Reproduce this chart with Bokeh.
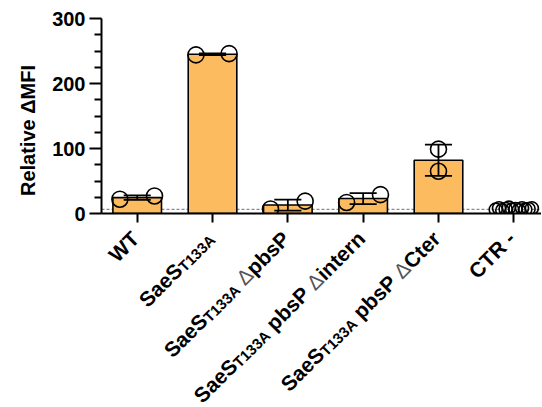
import numpy as np
from math import pi, sqrt
from bokeh.plotting import figure
from bokeh.layouts import row, column
from bokeh.models import Range1d, FixedTicker, Span
from bokeh.core.properties import value
from bokeh.embed import file_html
from bokeh.resources import INLINE

# ---------------- data ----------------
categories = ["WT", "SaeS T133A", "SaeS T133A ΔpbsP",
              "SaeS T133A pbsP Δintern", "SaeS T133A pbsP ΔCter", "CTR -"]
wt_vals = [22, 27]
saes_vals = [244, 246]
dpbsp_vals = [7, 19]
dintern_vals = [17, 29]
dcter_vals = [99, 65]
ctr_vals = [6, 8, 5, 7, 9, 6, 7, 5, 8, 6, 7, 8]
threshold = 6.5
y_ticks = [0, 100, 200, 300]
y_minor = [25, 50, 75, 125, 150, 175, 225, 250, 275]
y_title = "Relative ΔMFI"

# tick label pieces: m = main bold, s = subscript, d = delta, g = gap
label_parts = [
    [("WT", "m")],
    [("SaeS", "m"), ("T133A", "s")],
    [("SaeS", "m"), ("T133A", "s"), (" ", "g"), ("Δ", "d"), ("pbsP", "m")],
    [("SaeS", "m"), ("T133A", "s"), (" ", "g"), ("pbsP", "m"), (" ", "g"), ("Δ", "d"), ("intern", "m")],
    [("SaeS", "m"), ("T133A", "s"), (" ", "g"), ("pbsP", "m"), (" ", "g"), ("Δ", "d"), ("Cter", "m")],
    [("CTR", "m"), (" ", "g"), ("-", "m")],
]

groups = [wt_vals, saes_vals, dpbsp_vals, dintern_vals, dcter_vals, ctr_vals]
bar_groups = 5  # CTR - has no visible bar

# ---------------- layout ----------------
TOTAL_W, TOTAL_H = 541, 406
LEFT_W = 45
MAIN_W = TOTAL_W - LEFT_W
m_left, m_top, m_bottom = 56, 18, 10
frame_h = 195
MAIN_H = m_top + frame_h + m_bottom
BOT_H = TOTAL_H - MAIN_H
frame_w = MAIN_W - m_left
x0 = -0.474
PX_X = 75.32
x1 = x0 + frame_w / PX_X

FONT = "Liberation Sans"
BAR_COLOR = "#FDBB5F"

p = figure(width=MAIN_W, height=MAIN_H, output_backend="svg", toolbar_location=None,
           x_range=Range1d(x0, x1), y_range=Range1d(0, 300),
           min_border_left=m_left, min_border_right=0,
           min_border_top=m_top, min_border_bottom=m_bottom)
p.outline_line_color = None
p.xgrid.visible = False
p.ygrid.visible = False

# threshold dashed line (behind bars)
p.add_layout(Span(location=threshold, dimension="width", line_color="#8a8a8a",
                  line_width=1.2, line_dash="3 2", level="underlay"))

# bars
means = [float(np.mean(g)) for g in groups]
sds = [float(np.std(g, ddof=1)) for g in groups]
bx = list(range(bar_groups))
p.vbar(x=bx, top=means[:bar_groups], width=0.645, bottom=0,
       fill_color=BAR_COLOR, line_color="black", line_width=1.6)

# points
pair_offsets = [[-0.23, 0.23], [-0.22, 0.22], [-0.23, 0.23], [-0.22, 0.23], [0.0, 0.0]]
px, py = [], []
for i in range(bar_groups):
    for off, v in zip(pair_offsets[i], groups[i]):
        px.append(i + off)
        py.append(v)
p.scatter(px, py, size=16, marker="circle", fill_alpha=0, line_color="black", line_width=1.6)
ctr_off = np.linspace(-0.24, 0.24, len(ctr_vals))
p.scatter(5 + ctr_off, ctr_vals, size=13, marker="circle", fill_alpha=0,
          line_color="black", line_width=1.6)

# error bars (mean ± SD)
lo = [m - s for m, s in zip(means[:bar_groups], sds[:bar_groups])]
hi = [m + s for m, s in zip(means[:bar_groups], sds[:bar_groups])]
cap = 0.18
p.segment(x0=bx, y0=lo, x1=bx, y1=hi, line_color="black", line_width=1.8)
p.segment(x0=[x - cap for x in bx], y0=hi, x1=[x + cap for x in bx], y1=hi,
          line_color="black", line_width=1.8)
p.segment(x0=[x - cap for x in bx], y0=lo, x1=[x + cap for x in bx], y1=lo,
          line_color="black", line_width=1.8)

# axes
p.yaxis.ticker = FixedTicker(ticks=y_ticks, minor_ticks=y_minor)
p.yaxis.axis_line_width = 2
p.yaxis.major_tick_line_width = 2
p.yaxis.minor_tick_line_width = 2
p.yaxis.major_tick_out = 12
p.yaxis.major_tick_in = 0
p.yaxis.minor_tick_out = 7
p.yaxis.minor_tick_in = 0
p.yaxis.major_label_standoff = 4
p.yaxis.major_label_text_font = FONT
p.yaxis.major_label_text_font_style = "bold"
p.yaxis.major_label_text_font_size = "20px"
p.yaxis.major_label_text_color = "black"

p.xaxis.ticker = FixedTicker(ticks=list(range(len(categories))), minor_ticks=[])
p.xaxis.major_label_overrides = {i: "" for i in range(len(categories))}
p.xaxis.major_label_text_font_size = "1px"
p.xaxis.major_label_standoff = 0
p.xaxis.axis_line_width = 2
p.xaxis.major_tick_line_width = 2
p.xaxis.major_tick_out = 9
p.xaxis.major_tick_in = 0
p.xaxis.minor_tick_line_color = None

# ---------------- left strip: y title ----------------
pl = figure(width=LEFT_W, height=TOTAL_H, output_backend="svg", toolbar_location=None,
            x_range=Range1d(0, LEFT_W), y_range=Range1d(0, TOTAL_H),
            x_axis_type=None, y_axis_type=None,
            min_border_left=0, min_border_right=0, min_border_top=0, min_border_bottom=0)
pl.outline_line_color = None
pl.xgrid.visible = False
pl.ygrid.visible = False
pl.text(x=[27], y=[TOTAL_H - 130], text=[y_title], angle=pi / 2,
        text_align="center", text_baseline="alphabetic",
        text_font=value(FONT), text_font_style="bold", text_font_size="20px",
        text_color="black")

# ---------------- bottom strip: rotated category labels ----------------
pb = figure(width=MAIN_W, height=BOT_H, output_backend="svg", toolbar_location=None,
            x_range=p.x_range, y_range=Range1d(-BOT_H, 0),
            x_axis_type=None, y_axis_type=None,
            min_border_left=m_left, min_border_right=0, min_border_top=0, min_border_bottom=0)
pb.outline_line_color = None
pb.xgrid.visible = False
pb.ygrid.visible = False

MAIN_SZ, SUB_SZ = 21, 15
widths = {'S': .667, 'a': .556, 'e': .556, 'T': .611, '1': .556, '3': .556, 'A': .722,
          'p': .611, 'b': .611, 's': .556, 'P': .667, 'i': .278, 'n': .611, 't': .333,
          'r': .389, 'C': .722, 'W': .944, 'R': .722, '-': .333, ' ': .278, 'Δ': .668}
c = sqrt(0.5)
end_dx, end_dy = -2.0, 11.5  # right end of label baseline, relative to tick / strip top (px)
pieces = {"m": ([], [], []), "s": ([], [], []), "d": ([], [], [])}
for i, parts in enumerate(label_parts):
    cum = 0.0
    for text, kind in reversed(parts):
        size = SUB_SZ if kind == "s" else MAIN_SZ
        w = sum(widths[ch] for ch in text) * size
        if kind != "g":
            shift = 3.0 if kind == "s" else 0.0
            ox = end_dx - cum * c + shift * c
            oy = -end_dy - cum * c - shift * c
            xs, ys, ts = pieces[kind]
            xs.append(i + ox / PX_X)
            ys.append(oy)
            ts.append(text)
        cum += w

styles = {"m": ("bold", f"{MAIN_SZ}px", "black"), "s": ("bold", f"{SUB_SZ}px", "black"),
          "d": ("normal", f"{MAIN_SZ}px", "#555555")}
for kind, (xs, ys, ts) in pieces.items():
    fs, size, col = styles[kind]
    pb.text(x=xs, y=ys, text=ts, angle=pi / 4, text_align="right",
            text_baseline="alphabetic", text_font=value(FONT), text_font_style=fs,
            text_font_size=size, text_color=col)

layout = row(pl, column(p, pb))
open("out.html", "w").write(file_html(layout, INLINE))
